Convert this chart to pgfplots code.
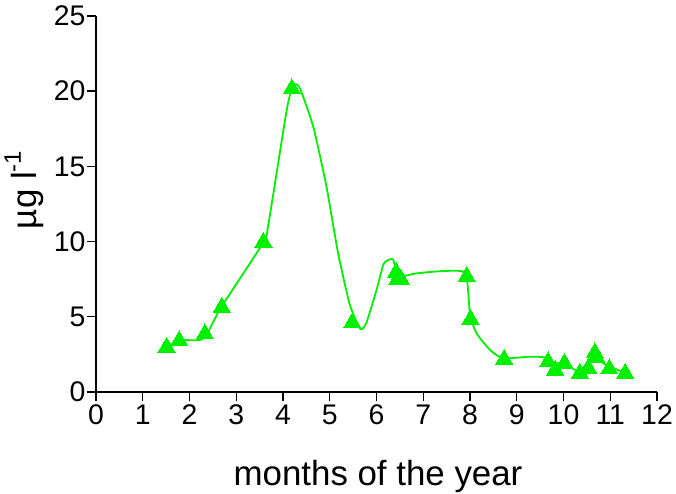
\documentclass[border=0pt]{standalone}
\usepackage{pgfplots}
\pgfplotsset{compat=1.18}
\usepackage{fontspec}
\setmainfont{Liberation Sans}
\definecolor{lgreen}{RGB}{0,240,0}
\begin{document}
\begin{tikzpicture}[x=1bp,y=1bp]
\begin{axis}[
  at={(0,0)}, anchor=south west,
  scale only axis, width=561bp, height=376bp,
  xmin=0, xmax=12, ymin=0, ymax=25,
  axis lines*=left,
  xtick={0,1,...,12}, ytick={0,5,...,25},
  tick align=outside, major tick length=9bp,
  tick style={black, line width=1.4bp},
  axis line style={black, line width=1.6bp},
  /pgf/number format/assume math mode=true,
  tick label style={font=\fontsize{28.5}{28.5}\selectfont},
  xticklabel style={yshift=-0.5bp},
  yticklabel style={xshift=2bp},
  clip=false,
]
\addplot[lgreen, line width=1.8bp, smooth, tension=0.35, mark=none] coordinates {
(1.5,3.0) (1.8,3.45) (2.3,3.55) (2.67,5.6) (3.58,9.95) (3.69,11.2) (4.08,18.75)
(4.22,20.4) (4.36,20.2) (4.65,17.6) (4.93,13.65) (5.18,9.2) (5.43,5.8) (5.65,4.2)
(5.78,4.57) (6.0,6.78) (6.15,8.5) (6.29,8.82) (6.36,8.78) (6.47,7.7) (6.86,7.89)
(7.43,8.04) (7.9,7.9) (7.99,5.45) (8.03,4.8) (8.14,3.9) (8.43,2.79) (8.71,2.24)
(9.28,2.35) (9.6,2.3) (9.75,2.0) (10.0,1.85) (10.14,1.68) (10.32,1.35) (10.5,1.9)
(10.67,2.5) (10.85,1.9) (11.2,1.42) (11.32,1.3)
};
\addplot[only marks, mark=triangle*, mark size=10bp, mark options={fill=lgreen, draw=lgreen, line width=0pt}] coordinates {
(1.51,2.97) (1.78,3.41) (2.33,3.86) (2.69,5.63) (3.58,9.95) (4.19,20.15)
(5.48,4.6) (6.42,7.95) (6.45,7.5) (6.52,7.5) (7.93,7.67) (8.01,4.83)
(8.73,2.17) (9.67,2.0) (9.82,1.46) (10.02,1.9) (10.35,1.24) (10.53,1.57)
(10.67,2.6) (10.7,2.3) (10.98,1.53) (11.32,1.24)
};
\end{axis}
\node[rotate=90, font=\fontsize{35}{35}\selectfont] at (-72,202) {µg l\raisebox{0.45em}{\fontsize{24}{24}\selectfont -1}};
\node[anchor=base, font=\fontsize{35}{35}\selectfont] at (282,-94) {months of the year};
\pgfresetboundingbox
\useasboundingbox (-96,-102) rectangle (580,392);
\end{tikzpicture}
\end{document}
